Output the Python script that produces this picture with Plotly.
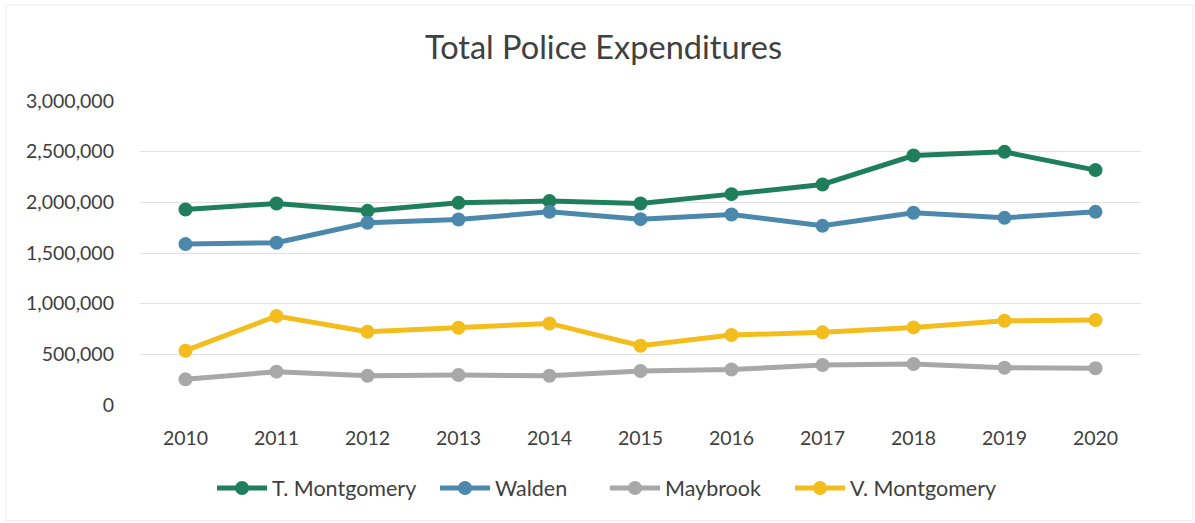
import plotly.graph_objects as go

years = [str(y) for y in range(2010, 2021)]

t_montgomery = [1930000, 1989000, 1916000, 1995000, 2012000, 1989000,
                2081000, 2176000, 2462000, 2498000, 2318000]
walden = [1588000, 1601000, 1798000, 1831000, 1906000, 1834000,
          1880000, 1768000, 1897000, 1847000, 1906000]
maybrook = [253000, 329000, 289000, 296000, 289000, 335000,
            350000, 394000, 404000, 368000, 362000]
v_montgomery = [536000, 878000, 723000, 762000, 805000, 585000,
                690000, 717000, 766000, 831000, 838000]

y_ticks = [0, 500000, 1000000, 1500000, 2000000, 2500000, 3000000]

series = [
    ("T. Montgomery", t_montgomery, "#1f7f5c"),
    ("Walden", walden, "#4c88ab"),
    ("Maybrook", maybrook, "#a8a8a8"),
    ("V. Montgomery", v_montgomery, "#f4bd1e"),
]

# left edge (px) of each legend entry along the bottom row
legend_left_px = [212, 435, 605, 790]

FONT = "Lato, Open Sans, sans-serif"
PLOT_L, PLOT_R = 140, 1141

fig = go.Figure()
legend_layout = {}
for i, ((name, vals, color), lx) in enumerate(zip(series, legend_left_px)):
    key = "legend" if i == 0 else f"legend{i + 1}"
    fig.add_trace(go.Scatter(
        x=years, y=vals, name=name, mode="lines+markers",
        line=dict(color=color, width=5),
        marker=dict(color=color, size=14),
        legend=key,
    ))
    legend_layout[key] = dict(
        orientation="h", x=(lx - PLOT_L) / (PLOT_R - PLOT_L), xanchor="left",
        y=-0.273, yanchor="middle", itemwidth=50,
        font=dict(size=21.5, color="#404040"),
        bgcolor="rgba(0,0,0,0)",
    )

fig.update_layout(
    width=1195, height=523,
    margin=dict(l=PLOT_L, r=1195 - PLOT_R, t=101, b=118),
    paper_bgcolor="white", plot_bgcolor="white",
    font=dict(family=FONT, color="#404040", size=19.5),
    title=dict(text="Total Police Expenditures", x=0.505, xanchor="center",
               y=0.908, yanchor="middle",
               font=dict(family=FONT, size=32.5, color="#404040")),
    xaxis=dict(type="category", range=[-0.5, 10.5],
               showgrid=False, showline=False, zeroline=False,
               ticks="", tickfont=dict(size=19.5, color="#404040"),
               ticklabelstandoff=19),
    yaxis=dict(range=[0, 3000000], tickvals=y_ticks, tickformat=",d",
               showgrid=True, gridcolor="#e2e2e2", gridwidth=1,
               zeroline=False, showline=False, ticks="",
               tickfont=dict(size=19.5, color="#404040"),
               ticklabelstandoff=25),
    showlegend=True,
    **legend_layout,
)

# faint chart border
fig.add_shape(type="rect", xref="paper", yref="paper",
              x0=-0.134, x1=1.052, y0=-0.38, y1=1.316,
              line=dict(color="#ececec", width=1))

fig.write_html("out.html")
